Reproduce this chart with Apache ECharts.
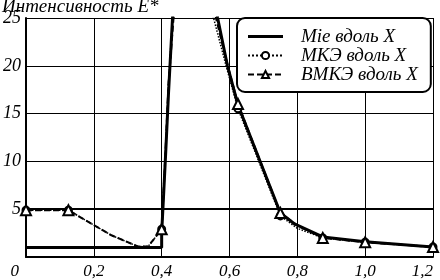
<!DOCTYPE html>
<html>
<head>
<meta charset="utf-8">
<script src="https://cdn.jsdelivr.net/npm/echarts@6/dist/echarts.min.js"></script>
<style>
  html, body { margin: 0; padding: 0; background: #fff; }
  #chart { width: 440px; height: 280px; }
</style>
</head>
<body>
<div id="chart"></div>
<script>
const FONT = "'Liberation Serif', 'DejaVu Serif', serif"

const xTicks = [0, 0.2, 0.4, 0.6, 0.8, 1.0, 1.2]
const yTicks = [0, 5, 10, 15, 20, 25]
const refLevel = 5

// Mie, solid
const mieX = [0, 0.4, 0.4, 0.405, 0.412, 0.42, 0.432, 0.46, 0.5, 0.54, 0.565, 0.594, 0.625, 0.75, 0.79, 0.875, 1.0, 1.2]
const mieY = [1.0, 1.0, 2.5, 6, 11, 17, 25, 33, 36, 32, 25, 20, 15.9, 4.6, 3.5, 2.1, 1.6, 1.05]

// MKE, dotted + circles
const mkeX = [0, 0.125, 0.25, 0.33, 0.36, 0.4, 0.41, 0.42, 0.432, 0.5, 0.553, 0.59, 0.625, 0.75, 0.8, 0.875, 1.0, 1.2]
const mkeY = [4.9, 4.9, 2.3, 1.1, 1.1, 2.9, 10, 18, 25, 35, 25, 20, 15.5, 4.3, 3.0, 2.0, 1.55, 1.05]
const mkeMarks = [0, 1, 5, 12, 13, 15, 16, 17]

// VMKE, dashed + triangles
const vmkeX = [0, 0.125, 0.25, 0.33, 0.36, 0.4, 0.41, 0.42, 0.435, 0.5, 0.56, 0.595, 0.625, 0.75, 0.8, 0.875, 1.0, 1.2]
const vmkeY = [4.9, 4.9, 2.3, 1.1, 1.1, 2.9, 10, 18, 25, 35, 25, 20, 16, 4.6, 3.3, 2.0, 1.55, 1.05]
const vmkeMarks = [0, 1, 5, 12, 13, 15, 16, 17]

const names = ['Mie вдоль X', 'МКЭ вдоль X', 'ВМКЭ вдоль X']

function points(xs, ys, marks) {
  return xs.map((x, i) => ({
    value: [x, ys[i]],
    symbol: marks && marks.includes(i) ? undefined : 'none',
  }))
}

const chart = echarts.init(document.getElementById('chart'), null, { renderer: 'canvas' })

chart.setOption({
  animation: false,
  backgroundColor: '#fff',
  textStyle: { fontFamily: FONT, fontStyle: 'italic', color: '#000' },
  title: {
    text: 'Интенсивность E*',
    left: 0,
    top: -5,
    padding: [2, 2],
    textStyle: { fontFamily: FONT, fontStyle: 'italic', fontWeight: 'normal', fontSize: 19, color: '#000' },
  },
  grid: { left: 25, right: 7, top: 18, bottom: 22 },
  xAxis: {
    type: 'value',
    min: xTicks[0],
    max: xTicks[xTicks.length - 1],
    interval: 0.2,
    axisLine: { lineStyle: { color: '#000', width: 2 } },
    axisTick: { show: false },
    splitLine: { show: true, lineStyle: { color: '#000', width: 1 } },
    axisLabel: {
      fontFamily: FONT, fontStyle: 'italic', fontSize: 17, color: '#000', margin: 6,
      alignMinLabel: 'right',
      alignMaxLabel: 'right',
      formatter: v => v === 0 ? '{lo|0}' : v.toFixed(1).replace('.', ','),
      rich: {
        lo: { fontFamily: FONT, fontStyle: 'italic', fontSize: 17, color: '#000', padding: [0, 7, 0, 0] },
      },
    },
  },
  yAxis: {
    type: 'value',
    min: yTicks[0],
    max: yTicks[yTicks.length - 1],
    interval: 5,
    axisLine: { show: true, lineStyle: { color: '#000', width: 2 } },
    axisTick: { show: false },
    splitLine: { show: true, lineStyle: { color: '#000', width: 1 } },
    axisLabel: {
      showMinLabel: false,
      fontFamily: FONT, fontStyle: 'italic', fontSize: 18, color: '#000', margin: 5,
    },
  },
  legend: {
    orient: 'vertical',
    left: 237,
    top: 18,
    padding: [9, 13, 8, 10],
    itemGap: 0,
    itemWidth: 35,
    itemHeight: 9,
    symbolKeepAspect: true,
    borderColor: '#000',
    borderWidth: 2,
    borderRadius: 8,
    backgroundColor: '#fff',
    textStyle: { fontFamily: FONT, fontStyle: 'italic', fontSize: 19, lineHeight: 17, color: '#000', padding: [0, 0, 0, 13] },
    data: [
      { name: names[0], icon: 'path://M0,0H35V3H0Z', itemStyle: { color: '#000' } },
      names[1],
      names[2],
    ],
  },
  series: [
    {
      name: names[0],
      type: 'line',
      symbol: 'none',
      z: 3,
      lineStyle: { color: '#000', width: 3 },
      itemStyle: { color: '#000' },
      data: points(mieX, mieY),
      markLine: {
        silent: true,
        symbol: 'none',
        label: { show: false },
        lineStyle: { color: '#000', width: 2, type: 'solid' },
        data: [{ yAxis: refLevel }],
      },
    },
    {
      name: names[1],
      type: 'line',
      symbol: 'emptyCircle',
      symbolSize: 7,
      z: 4,
      lineStyle: { color: '#000', width: 1.5, type: 'dotted' },
      itemStyle: { color: '#000', borderColor: '#000', borderWidth: 1.5 },
      data: points(mkeX, mkeY, mkeMarks),
    },
    {
      name: names[2],
      type: 'line',
      symbol: 'emptyTriangle',
      symbolSize: 10,
      z: 5,
      lineStyle: { color: '#000', width: 2, type: [6, 3] },
      itemStyle: { color: '#000', borderColor: '#000', borderWidth: 1.5 },
      data: points(vmkeX, vmkeY, vmkeMarks),
    },
  ],
})
</script>
</body>
</html>
